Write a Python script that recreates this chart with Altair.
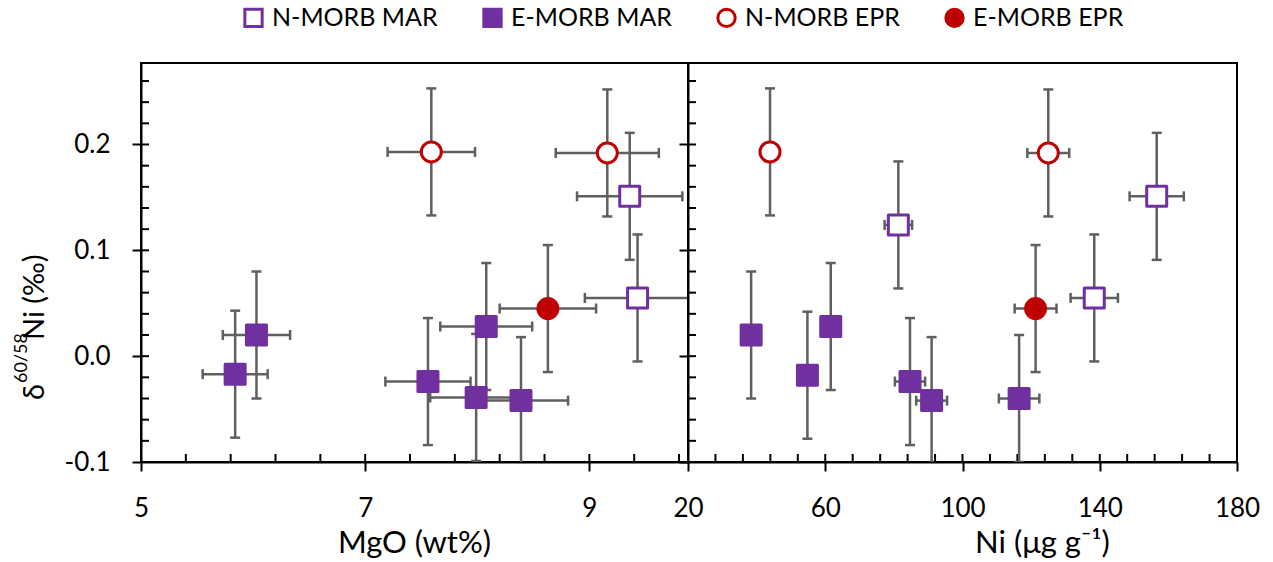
import altair as alt
import pandas as pd

# ---- sample groups -------------------------------------------------------
GROUPS = ["N-MORB MAR", "E-MORB MAR", "N-MORB EPR", "E-MORB EPR"]

# MgO (wt%) vs delta60/58Ni
mgo_group = ["E-MORB MAR", "E-MORB MAR", "E-MORB MAR", "E-MORB MAR", "E-MORB MAR", "E-MORB MAR",
             "N-MORB MAR", "N-MORB MAR", "N-MORB EPR", "N-MORB EPR", "E-MORB EPR"]
mgo_val = [6.03, 5.84, 7.56, 8.08, 7.99, 8.39, 9.36, 9.43, 7.59, 9.16, 8.63]
mgo_err = [0.30, 0.29, 0.38, 0.41, 0.41, 0.42, 0.47, 0.47, 0.39, 0.46, 0.43]
mgo_d60 = [0.020, -0.017, -0.024, 0.028, -0.039, -0.042, 0.151, 0.055, 0.193, 0.192, 0.045]
mgo_d60_err = [0.06] * 11

# Ni (ug/g) vs delta60/58Ni
ni_group = ["E-MORB MAR", "E-MORB MAR", "E-MORB MAR", "E-MORB MAR", "E-MORB MAR", "E-MORB MAR",
            "N-MORB MAR", "N-MORB MAR", "N-MORB MAR", "N-MORB EPR", "N-MORB EPR", "E-MORB EPR"]
ni_val = [38.4, 54.8, 61.6, 84.7, 91.0, 116.5, 81.3, 138.4, 156.6, 43.9, 125.0, 121.3]
ni_err = [0.0, 0.0, 0.0, 4.4, 4.5, 5.9, 4.0, 6.9, 7.9, 0.0, 6.1, 6.1]
ni_d60 = [0.020, -0.018, 0.028, -0.024, -0.042, -0.040, 0.124, 0.055, 0.151, 0.193, 0.192, 0.045]
ni_d60_err = [0.06] * 12

# axis ticks
Y_DOMAIN = [-0.1, 0.277]
y_major = [-0.1, 0.0, 0.1, 0.2]
y_minor = [round(-0.1 + 0.02 * i, 2) for i in range(1, 19)]
mgo_domain = [5, 9.88]
mgo_major = [5, 7, 9]
mgo_minor = [5.4, 5.8, 6.2, 6.6, 7.0, 7.4, 7.8, 8.2, 8.6, 9.0, 9.4, 9.8]
ni_domain = [20, 180]
ni_major = [20, 60, 100, 140, 180]
ni_minor = list(range(28, 180, 8))

PURPLE = "#7030A0"
RED = "#C00000"
GREY = "#5f5f5f"
FONT = "Lato"
W_LEFT, W_RIGHT, H = 547, 549, 399

legend = alt.Legend(
    orient="none", legendX=100, legendY=-58, direction="horizontal", columns=4,
    columnPadding=39, title=None, labelFont=FONT, labelFontSize=25, labelColor="black",
    labelLimit=400, symbolSize=300, symbolStrokeWidth=3, labelOffset=6,
)
shape_enc = alt.Shape("group:N", scale=alt.Scale(domain=GROUPS, range=["square", "square", "circle", "circle"]), legend=legend)
fill_enc = alt.Fill("group:N", scale=alt.Scale(domain=GROUPS, range=["white", PURPLE, "white", RED]), legend=legend)
stroke_enc = alt.Stroke("group:N", scale=alt.Scale(domain=GROUPS, range=[PURPLE, PURPLE, RED, RED]), legend=legend)


def panel(df, xdom, xmajor, xminor, xtitle, title_x, width, with_labels):
    xs = alt.Scale(domain=xdom, nice=False, zero=False)
    ys = alt.Scale(domain=Y_DOMAIN, nice=False, zero=False)
    xaxis = alt.Axis(
        values=xmajor, title=xtitle, titleX=title_x, titleY=90, titleBaseline="alphabetic",
        titleFont=FONT, titleFontSize=31, titleFontWeight="normal", titleColor="black",
        labelFont=FONT, labelFontSize=26, labelColor="black", labelBaseline="alphabetic",
        labelPadding=45, labelFlush=False, labelOverlap=False,
        tickSize=9, tickWidth=2, tickColor="black", domainColor="black", domainWidth=2,
        grid=False, format="d",
    )
    yaxis = alt.Axis(
        values=y_major, title=None, labels=with_labels,
        labelExpr="datum.value < 0 ? '-' + format(-datum.value, '.1f') : format(datum.value, '.1f')",
        labelFont=FONT, labelFontSize=26, labelColor="black", labelPadding=22,
        tickSize=9, tickWidth=2, tickColor="black", domainColor="black", domainWidth=2, grid=False,
    )
    X = lambda f: alt.X(f, scale=xs, axis=xaxis)
    Y = lambda f: alt.Y(f, scale=ys, axis=yaxis)

    base = alt.Chart(df).transform_calculate(
        ylo="datum.d60 - datum.d60_err", yhi="datum.d60 + datum.d60_err",
        xlo="datum.x - datum.x_err", xhi="datum.x + datum.x_err",
    )
    vbar = base.mark_rule(color=GREY, strokeWidth=2.5, clip=True).encode(
        x=X("x:Q"), y=Y("ylo:Q"), y2="yhi:Q")
    vcap = base.transform_fold(["ylo", "yhi"], as_=["end", "yc"]).mark_tick(
        orient="horizontal", size=10, thickness=2.5, color=GREY, opacity=1, clip=True).encode(
        x=X("x:Q"), y=Y("yc:Q"))
    hbar = base.transform_filter("datum.x_err > 0").mark_rule(color=GREY, strokeWidth=2.5, clip=True).encode(
        x=X("xlo:Q"), x2="xhi:Q", y=Y("d60:Q"))
    hcap = base.transform_filter("datum.x_err > 0").transform_fold(["xlo", "xhi"], as_=["end", "xc"]).mark_tick(
        orient="vertical", size=10, thickness=2.5, color=GREY, opacity=1, clip=True).encode(
        x=X("xc:Q"), y=Y("d60:Q"))
    pts = base.mark_point(size=400, strokeWidth=3, opacity=1, strokeJoin="round", clip=True).encode(
        x=X("x:Q"), y=Y("d60:Q"), shape=shape_enc, fill=fill_enc, stroke=stroke_enc)

    # inward-facing tick marks along the left and bottom axes
    yin = alt.Chart(pd.DataFrame({"t": y_minor})).mark_rule(color="black", strokeWidth=2).encode(
        y=Y("t:Q"), x=alt.value(0), x2=alt.value(8))
    xin = alt.Chart(pd.DataFrame({"t": xminor})).mark_rule(color="black", strokeWidth=2).encode(
        x=X("t:Q"), y=alt.value(H), y2=alt.value(H - 8))

    layers = [yin, xin, vbar, vcap, hbar, hcap, pts]
    return alt.layer(*layers).properties(width=width, height=H)


mgo_df = pd.DataFrame({"group": mgo_group, "x": mgo_val, "x_err": mgo_err, "d60": mgo_d60, "d60_err": mgo_d60_err})
ni_df = pd.DataFrame({"group": ni_group, "x": ni_val, "x_err": ni_err, "d60": ni_d60, "d60_err": ni_d60_err})

left = panel(mgo_df, mgo_domain, mgo_major, mgo_minor, "MgO (wt%)", 273, W_LEFT, True)
right = panel(ni_df, ni_domain, ni_major, ni_minor, "Ni (μg g⁻¹)", 354, W_RIGHT, False)

# y-axis title with a raised isotope ratio
tdf = pd.DataFrame({"k": [0]})
ytitle = [
    alt.Chart(tdf).mark_text(text="δ", angle=270, align="left", baseline="alphabetic",
                             font=FONT, fontSize=29, color="black").encode(x=alt.value(-97), y=alt.value(337)),
    alt.Chart(tdf).mark_text(text="60/58", angle=270, align="left", baseline="alphabetic",
                             font=FONT, fontSize=18, color="black").encode(x=alt.value(-114), y=alt.value(320)),
    alt.Chart(tdf).mark_text(text="Ni (‰)", angle=270, align="left", baseline="alphabetic",
                             font=FONT, fontSize=29, color="black").encode(x=alt.value(-97), y=alt.value(277)),
]
left = alt.layer(left, *ytitle)

chart = alt.hconcat(left, right, spacing=0, bounds="flush").resolve_scale(
    x="independent", y="shared", fill="shared", stroke="shared", shape="shared"
).properties(
    padding={"left": 12, "top": 5, "right": 5, "bottom": 0}
).configure_view(stroke="black", strokeWidth=2)

chart.save("out.html", embed_options={"renderer": "svg", "actions": False})
